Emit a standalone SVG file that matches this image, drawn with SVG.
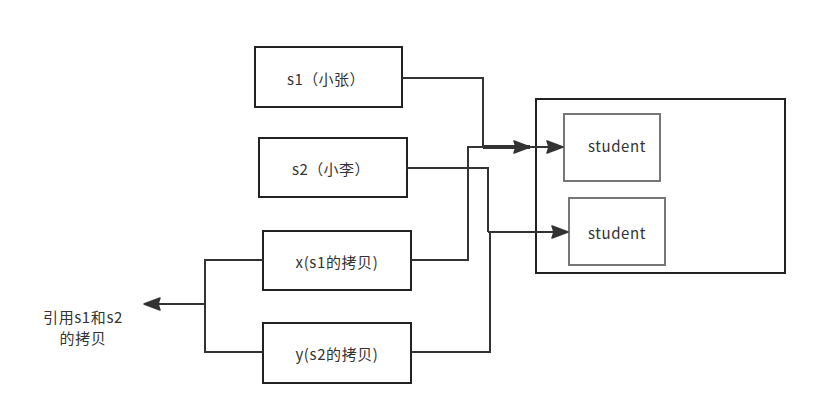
<svg xmlns="http://www.w3.org/2000/svg" width="838" height="420" viewBox="0 0 838 420">
<defs>
<style>
.box{fill:#fff;stroke:#222;stroke-width:2}
.sbox{fill:#fff;stroke:#777;stroke-width:2}
.t{font-family:"Noto Sans CJK SC","Noto Sans",sans-serif;font-size:15px;letter-spacing:0.6px;fill:#333;text-anchor:middle;dominant-baseline:central}
.ln{fill:none;stroke:#333;stroke-width:2}
</style>
<marker id="ahb" viewBox="0 0 18 14" markerWidth="18" markerHeight="14" refX="17" refY="7" orient="auto" markerUnits="userSpaceOnUse">
<path d="M1,1 L17,7 L1,13 L3,7 Z" fill="#333" stroke="#333" stroke-width="1.5" stroke-linejoin="round"/>
</marker>
</defs>
<rect width="838" height="420" fill="#fff"/>
<g id="container"><rect class="box" x="536" y="99" width="249" height="174"/></g>
<g id="student1"><rect class="sbox" x="564" y="114" width="96" height="67"/><text class="t" x="617" y="145">student</text></g>
<g id="student2"><rect class="sbox" x="569" y="198" width="96" height="67"/><text class="t" x="617" y="232">student</text></g>
<g id="s1"><rect class="box" x="255" y="47" width="147" height="60"/><text class="t" x="326" y="78" textLength="78" lengthAdjust="spacing">s1（小张）</text></g>
<g id="s2"><rect class="box" x="259" y="138" width="148" height="59"/><text class="t" x="331" y="168" textLength="78" lengthAdjust="spacing">s2（小李）</text></g>
<g id="x"><rect class="box" x="263" y="231" width="148" height="59"/><text class="t" x="337" y="261">x(s1的拷贝)</text></g>
<g id="y"><rect class="box" x="263" y="323" width="148" height="60"/><text class="t" x="337" y="353">y(s2的拷贝)</text></g>
<g id="label"><text class="t" x="83" y="316">引用s1和s2</text><text class="t" x="83" y="337">的拷贝</text></g>
<g id="connectors">
<path class="ln" d="M402,78 H483 V147"/>
<path class="ln" d="M411,260 H468 V147 H483"/>
<path d="M483,147 H530" stroke="#333" stroke-width="4" fill="none" marker-end="url(#ahb)"/>
<path class="ln" d="M530,147 H563" marker-end="url(#ahb)"/>
<path class="ln" d="M407,168 H488 V232"/>
<path class="ln" d="M411,352 H490 V232"/>
<path class="ln" d="M488,232 H568" marker-end="url(#ahb)"/>
<path class="ln" d="M263,260 H205 V352 H263"/>
<path class="ln" d="M205,304 H144" marker-end="url(#ahb)"/>
</g>
</svg>
